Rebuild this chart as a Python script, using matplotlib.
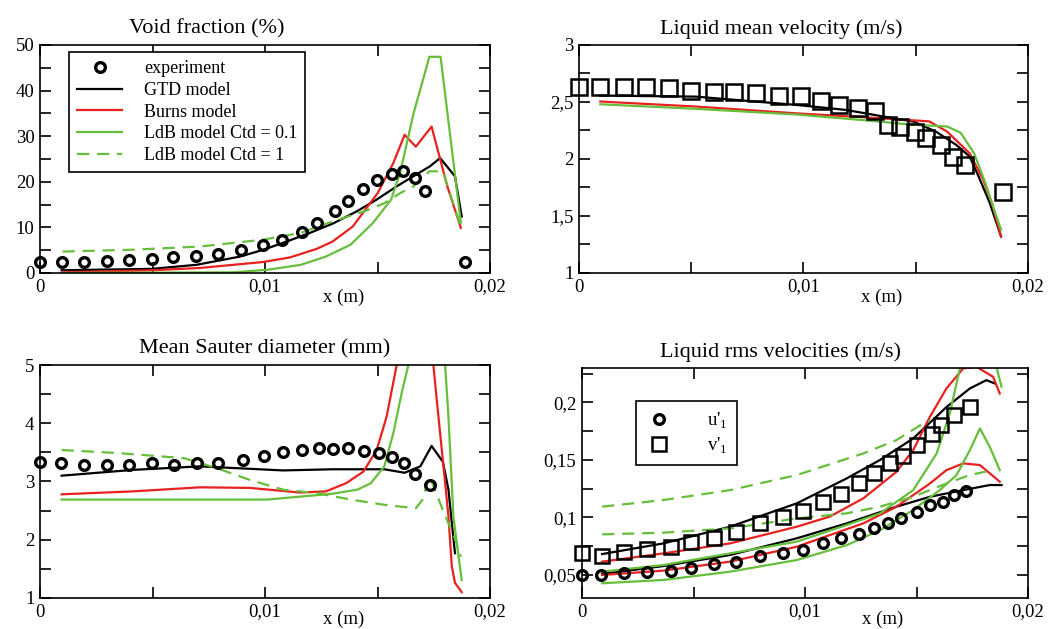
import numpy as np
import matplotlib.pyplot as plt
from matplotlib.ticker import MultipleLocator, FixedLocator, FuncFormatter

plt.rcParams['font.family'] = ['Liberation Serif', 'DejaVu Serif']
plt.rcParams['mathtext.fontset'] = 'custom'
plt.rcParams['mathtext.rm'] = 'Liberation Serif'

RED = '#e8211f'
GREEN = '#66bf3a'

# ---- Void fraction (%) ----
void_exp_x = [0, 0.00096, 0.00196, 0.00296, 0.00396, 0.00496, 0.00593, 0.00692, 0.00793, 0.00892,
              0.00993, 0.01074, 0.01163, 0.0123, 0.01311, 0.0137, 0.01437, 0.01496, 0.01563,
              0.01615, 0.01667, 0.01711, 0.01889]
void_exp_y = [2.4, 2.4, 2.4, 2.6, 2.9, 3.1, 3.4, 3.7, 4.2, 5.1, 6.2, 7.3, 9.0, 10.9, 13.5, 15.7,
              18.4, 20.4, 21.8, 22.3, 20.8, 17.9, 2.3]
void_gtd_x = [0.00096, 0.00496, 0.00696, 0.00889, 0.00993, 0.01096, 0.012, 0.01304, 0.01407,
              0.01496, 0.01585, 0.01659, 0.01733, 0.01778, 0.01844, 0.01874]
void_gtd_y = [0.6, 0.9, 1.8, 3.6, 5.1, 6.9, 8.8, 10.9, 13.5, 16.1, 19.0, 21.2, 23.4, 25.2, 21.2, 12.4]
void_burns_x = [0.001, 0.005, 0.0071, 0.0099, 0.0111, 0.0123, 0.013, 0.0139, 0.015, 0.0157,
                0.0162, 0.0167, 0.0174, 0.0181, 0.0187]
void_burns_y = [0.15, 0.6, 1.1, 2.4, 3.4, 5.3, 6.9, 10.2, 17.5, 24.1, 30.3, 27.7, 32.1, 19.0, 9.9]
void_ldb01_x = [0.001, 0.0086, 0.0101, 0.0116, 0.0127, 0.0138, 0.0148, 0.0156, 0.016, 0.0166,
                0.0171, 0.0173, 0.0178, 0.0187]
void_ldb01_y = [0.0, 0.15, 0.7, 1.8, 3.6, 6.2, 11.0, 16.1, 21.9, 35.0, 43.8, 47.4, 47.4, 11.0]
void_ldb1_x = [0.001, 0.0041, 0.0071, 0.0099, 0.0116, 0.013, 0.0144, 0.0153, 0.016, 0.0166,
               0.0173, 0.0179, 0.0187]
void_ldb1_y = [4.7, 5.1, 5.8, 7.3, 8.8, 11.3, 13.5, 15.3, 17.5, 19.0, 22.3, 22.3, 10.2]

# ---- Liquid mean velocity (m/s) ----
vel_exp_x = [0, 0.00095, 0.002, 0.003, 0.004, 0.005, 0.006, 0.0069, 0.0079, 0.0089, 0.0099,
             0.0108, 0.0116, 0.01243, 0.01317, 0.01376, 0.01428, 0.01495, 0.01547, 0.01614,
             0.01666, 0.01718, 0.01889]
vel_exp_y = [2.635, 2.635, 2.635, 2.635, 2.62, 2.60, 2.59, 2.59, 2.58, 2.55, 2.55, 2.51, 2.47,
             2.445, 2.42, 2.30, 2.28, 2.24, 2.18, 2.12, 2.02, 1.95, 1.71]
vel_gtd_x = [0.00095, 0.0052, 0.0097, 0.0119, 0.0134, 0.0149, 0.0159, 0.0168, 0.0174, 0.0178,
             0.0183, 0.0188]
vel_gtd_y = [2.556, 2.547, 2.474, 2.43, 2.378, 2.328, 2.24, 2.124, 2.022, 1.847, 1.613, 1.32]
vel_burns_x = [0.00095, 0.0052, 0.0097, 0.0127, 0.0156, 0.0164, 0.0174, 0.018, 0.0184, 0.0188]
vel_burns_y = [2.504, 2.46, 2.40, 2.366, 2.33, 2.24, 2.05, 1.82, 1.61, 1.32]
vel_ldb_x = [0.00095, 0.0052, 0.0097, 0.0127, 0.0149, 0.0164, 0.017, 0.0176, 0.0181, 0.0185, 0.0188]
vel_ldb_y = [2.48, 2.44, 2.39, 2.34, 2.30, 2.285, 2.23, 2.05, 1.79, 1.55, 1.38]

# ---- Mean Sauter diameter (mm) ----
d32_exp_x = [0, 0.00092, 0.00196, 0.00296, 0.00396, 0.00496, 0.00596, 0.00696, 0.00793, 0.00904,
             0.00997, 0.01081, 0.01163, 0.0124, 0.01304, 0.0137, 0.01441, 0.01508, 0.01563,
             0.01618, 0.01667, 0.01733]
d32_exp_y = [3.33, 3.32, 3.28, 3.28, 3.28, 3.31, 3.29, 3.31, 3.31, 3.37, 3.43, 3.50, 3.54, 3.57,
             3.55, 3.57, 3.53, 3.49, 3.42, 3.31, 3.13, 2.94]
d32_gtd_x = [0.00096, 0.00415, 0.0071, 0.0108, 0.013, 0.0153, 0.0162, 0.0169, 0.0174, 0.0179,
             0.01815, 0.0183, 0.01844]
d32_gtd_y = [3.10, 3.20, 3.26, 3.19, 3.21, 3.21, 3.15, 3.26, 3.61, 3.34, 2.86, 2.29, 1.77]
d32_burns_x = [0.00096, 0.0041, 0.0071, 0.00933, 0.01156, 0.0127, 0.0136, 0.01437, 0.01496,
               0.0154, 0.01585, 0.0159, 0.0174, 0.01748, 0.01763, 0.0179, 0.01815, 0.0183,
               0.01844, 0.01874]
d32_burns_y = [2.78, 2.83, 2.90, 2.89, 2.81, 2.83, 2.97, 3.17, 3.54, 4.11, 5.0, 5.4, 5.4, 5.0,
               4.4, 3.37, 2.4, 1.54, 1.26, 1.1]
d32_ldb01_x = [0.00096, 0.0101, 0.013, 0.0141, 0.0147, 0.0153, 0.0157, 0.0161, 0.01637, 0.0165,
               0.0179, 0.018, 0.01815, 0.01837, 0.0186, 0.01874]
d32_ldb01_y = [2.69, 2.69, 2.79, 2.86, 2.97, 3.26, 3.83, 4.57, 5.0, 5.4, 5.4, 5.0, 4.11, 2.4,
               1.71, 1.31]
d32_ldb1_x = [0.00096, 0.0034, 0.0064, 0.00785, 0.0093, 0.0108, 0.0123, 0.0138, 0.0153, 0.0167,
              0.017, 0.0173, 0.0175, 0.0179, 0.0184, 0.0187]
d32_ldb1_y = [3.54, 3.49, 3.40, 3.23, 3.03, 2.86, 2.80, 2.69, 2.60, 2.54, 2.69, 3.09, 2.91, 2.51,
              2.06, 1.71]

# ---- Liquid rms velocities (m/s) ----
rms_u_x = [0, 0.00085, 0.0019, 0.0029, 0.004, 0.0049, 0.0059, 0.0069, 0.008, 0.009, 0.0099,
           0.0108, 0.0116, 0.0124, 0.0131, 0.0137, 0.0143, 0.015, 0.0156, 0.0162, 0.0167, 0.0172]
rms_u_y = [0.05, 0.05, 0.0515, 0.053, 0.0538, 0.0558, 0.0593, 0.0616, 0.0665, 0.0688, 0.0717,
           0.0775, 0.0819, 0.0856, 0.0905, 0.0949, 0.0992, 0.105, 0.1108, 0.1137, 0.1195, 0.1233]
rms_v_x = [0, 0.0009, 0.0019, 0.0029, 0.004, 0.0049, 0.0059, 0.0069, 0.008, 0.009, 0.0099,
           0.0108, 0.0116, 0.0124, 0.0131, 0.0138, 0.0144, 0.015, 0.0157, 0.0161, 0.0167, 0.0174]
rms_v_y = [0.0694, 0.0668, 0.0703, 0.0723, 0.0746, 0.079, 0.0819, 0.0876, 0.0949, 0.1007, 0.1059,
           0.1131, 0.1204, 0.1296, 0.1383, 0.147, 0.1534, 0.163, 0.173, 0.180, 0.189, 0.196]
gtd_v_x = [0.0009, 0.00366, 0.00664, 0.00963, 0.01187, 0.01336, 0.01485, 0.01634, 0.01739,
           0.01813, 0.01851]
gtd_v_y = [0.0682, 0.0775, 0.092, 0.1123, 0.134, 0.15, 0.1687, 0.196, 0.2122, 0.2194, 0.2165]
gtd_u_x = [0.0009, 0.00366, 0.00664, 0.00963, 0.01187, 0.0141, 0.0156, 0.01709, 0.01828, 0.01881]
gtd_u_y = [0.0509, 0.0578, 0.0674, 0.0819, 0.0949, 0.1094, 0.118, 0.1238, 0.1282, 0.1282]
burns_v_x = [0.0009, 0.00366, 0.00664, 0.00963, 0.0111, 0.01261, 0.0141, 0.01485, 0.0156,
             0.01634, 0.01709, 0.01769, 0.01843, 0.01873]
burns_v_y = [0.0616, 0.0688, 0.0775, 0.092, 0.1007, 0.1166, 0.1398, 0.1586, 0.1876, 0.2122,
             0.2296, 0.231, 0.2223, 0.2078]
burns_u_x = [0.0009, 0.00366, 0.00664, 0.00963, 0.01261, 0.0141, 0.0156, 0.01634, 0.01709,
             0.01784, 0.01873]
burns_u_y = [0.05, 0.0538, 0.0616, 0.0746, 0.0949, 0.1094, 0.1296, 0.1412, 0.147, 0.1456, 0.1311]
ldb01_v_x = [0.0009, 0.00366, 0.00664, 0.00963, 0.01187, 0.01336, 0.01485, 0.0159, 0.01649,
             0.01694, 0.0171, 0.0185, 0.01858, 0.01881]
ldb01_v_y = [0.0529, 0.0587, 0.0688, 0.079, 0.0935, 0.1036, 0.1238, 0.1557, 0.1905, 0.2296,
             0.24, 0.24, 0.231, 0.2136]
ldb01_u_x = [0.0009, 0.00366, 0.00664, 0.00963, 0.01187, 0.01336, 0.01485, 0.01604, 0.01679,
             0.01739, 0.01784, 0.01828, 0.01873]
ldb01_u_y = [0.0428, 0.0457, 0.0529, 0.063, 0.076, 0.089, 0.1065, 0.1238, 0.1369, 0.1586,
             0.1774, 0.1615, 0.1412]
ldb1_v_x = [0.0009, 0.00366, 0.00664, 0.00963, 0.01261, 0.0141, 0.0153, 0.0156]
ldb1_v_y = [0.1094, 0.1152, 0.1238, 0.1369, 0.1557, 0.1673, 0.1818, 0.184]
ldb1_u_x = [0.0009, 0.00366, 0.00664, 0.00963, 0.01187, 0.01336, 0.01485, 0.01634, 0.01739, 0.01813]
ldb1_u_y = [0.0853, 0.0868, 0.0905, 0.0992, 0.1036, 0.1094, 0.118, 0.1296, 0.1369, 0.14]

LW = 1.6
DASH = (5.5, 3.5)
comma = FuncFormatter(lambda v, p: ('%g' % v).replace('.', ','))


def setup_axes(ax, ylim, ymajor, yminor, title, title_x, xlab_y):
    ax.set_xlim(0, 0.02)
    ax.set_ylim(*ylim)
    ax.xaxis.set_major_locator(FixedLocator([0, 0.005, 0.01, 0.015, 0.02]))
    ax.xaxis.set_major_formatter(FuncFormatter(
        lambda v, p: {0: '0', 2: '0,01', 4: '0,02'}.get(p, '')))
    ax.yaxis.set_major_locator(MultipleLocator(ymajor))
    ax.yaxis.set_minor_locator(MultipleLocator(yminor))
    ax.yaxis.set_major_formatter(comma)
    ax.tick_params(which='both', direction='in', top=True, right=True, length=8, width=1.2,
                   labelsize=13.5, pad=4)
    for s in ax.spines.values():
        s.set_linewidth(1.2)
    ax.set_xlabel('x (m)', fontsize=13.5)
    ax.xaxis.set_label_coords(0.675, xlab_y)
    ax.set_title(title, fontsize=16, x=title_x, pad=8)


fig = plt.figure(figsize=(10.51, 6.29), dpi=100)
ax1 = fig.add_axes([0.0381, 0.5660, 0.4282, 0.3625])
ax2 = fig.add_axes([0.5509, 0.5660, 0.4272, 0.3625])
ax3 = fig.add_axes([0.0381, 0.0493, 0.4282, 0.3704])
ax4 = fig.add_axes([0.5538, 0.0493, 0.4244, 0.3657])

# Void fraction
ax1.plot(void_exp_x, void_exp_y, 'o', ms=7, mfc='none', mec='black', mew=2.4,
         clip_on=False, zorder=5, label='experiment')
ax1.plot(void_gtd_x, void_gtd_y, color='black', lw=LW, label='GTD model')
ax1.plot(void_burns_x, void_burns_y, color=RED, lw=LW, label='Burns model')
ax1.plot(void_ldb01_x, void_ldb01_y, color=GREEN, lw=LW, label='LdB model Ctd = 0.1')
ax1.plot(void_ldb1_x, void_ldb1_y, color=GREEN, lw=LW, dashes=DASH, label='LdB model Ctd = 1')
setup_axes(ax1, (0, 50), 10, 5, 'Void fraction (%)', 0.37, -0.07)
leg = ax1.legend(loc='upper left', bbox_to_anchor=(0.064, 0.969), borderaxespad=0,
                 fancybox=False, edgecolor='black', fontsize=13, handlelength=2.5,
                 handletextpad=1.2, labelspacing=0.26, borderpad=0.45, framealpha=1)
leg.get_frame().set_linewidth(1.2)

# Liquid mean velocity
ax2.plot(vel_exp_x, vel_exp_y, 's', ms=11, mfc='none', mec='black', mew=1.8,
         clip_on=False, zorder=5)
ax2.plot(vel_gtd_x, vel_gtd_y, color='black', lw=LW)
ax2.plot(vel_burns_x, vel_burns_y, color=RED, lw=LW)
ax2.plot(vel_ldb_x, vel_ldb_y, color=GREEN, lw=LW)
setup_axes(ax2, (1, 3), 0.5, 0.25, 'Liquid mean velocity (m/s)', 0.45, -0.07)

# Mean Sauter diameter
ax3.plot(d32_exp_x, d32_exp_y, 'o', ms=7, mfc='none', mec='black', mew=2.4,
         clip_on=False, zorder=5)
ax3.plot(d32_gtd_x, d32_gtd_y, color='black', lw=LW)
ax3.plot(d32_burns_x, d32_burns_y, color=RED, lw=LW)
ax3.plot(d32_ldb01_x, d32_ldb01_y, color=GREEN, lw=LW)
ax3.plot(d32_ldb1_x, d32_ldb1_y, color=GREEN, lw=LW, dashes=DASH)
setup_axes(ax3, (1, 5), 1, 0.5, 'Mean Sauter diameter (mm)', 0.5, -0.055)

# Liquid rms velocities
ax4.plot(gtd_v_x, gtd_v_y, color='black', lw=LW)
ax4.plot(gtd_u_x, gtd_u_y, color='black', lw=LW)
ax4.plot(burns_v_x, burns_v_y, color=RED, lw=LW)
ax4.plot(burns_u_x, burns_u_y, color=RED, lw=LW)
ax4.plot(ldb01_v_x, ldb01_v_y, color=GREEN, lw=LW)
ax4.plot(ldb01_u_x, ldb01_u_y, color=GREEN, lw=LW)
ax4.plot(ldb1_v_x, ldb1_v_y, color=GREEN, lw=LW, dashes=DASH)
ax4.plot(ldb1_u_x, ldb1_u_y, color=GREEN, lw=LW, dashes=DASH)
ax4.plot(rms_u_x, rms_u_y, 'o', ms=7, mfc='none', mec='black', mew=2.4,
         clip_on=False, zorder=5, label="u'$_1$")
ax4.plot(rms_v_x, rms_v_y, 's', ms=10, mfc='none', mec='black', mew=1.8,
         clip_on=False, zorder=5, label="v'$_1$")
setup_axes(ax4, (0.03, 0.23), 0.05, 0.025, 'Liquid rms velocities (m/s)', 0.445, -0.055)
leg4 = ax4.legend(loc='upper left', bbox_to_anchor=(0.121, 0.857), borderaxespad=0,
                  fancybox=False, edgecolor='black', fontsize=13.5, handlelength=1.5,
                  handletextpad=1.8, labelspacing=0.25, borderpad=0.5, framealpha=1)
leg4.get_frame().set_linewidth(1.2)

fig.savefig('out.png', dpi=100)
